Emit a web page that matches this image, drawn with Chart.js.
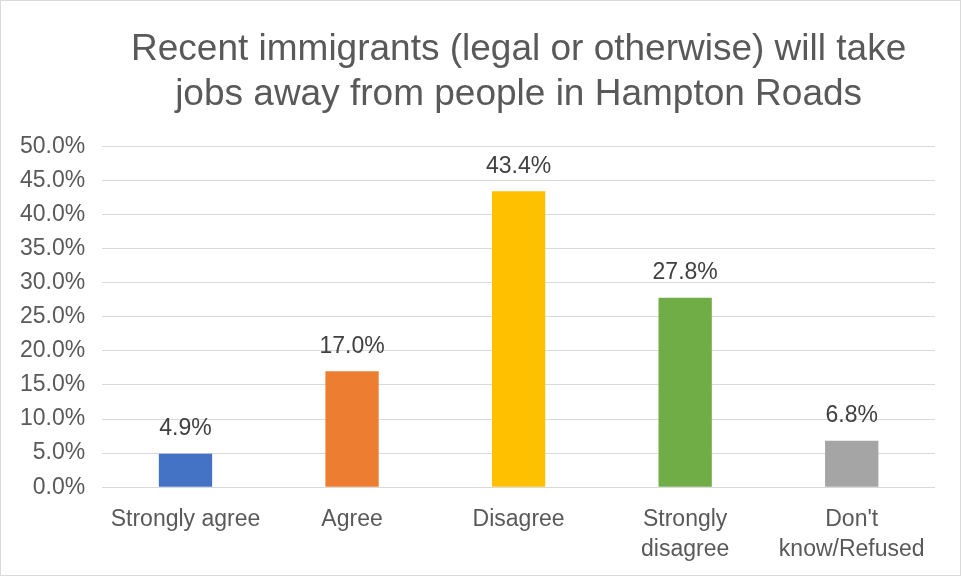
<!DOCTYPE html>
<html>
<head>
<meta charset="utf-8">
<script src="https://cdn.jsdelivr.net/npm/chart.js@4"></script>
<style>
  html, body { margin: 0; padding: 0; background: #fff; }
  .wrap { position: relative; width: 961px; height: 576px; box-sizing: border-box; border: 1px solid #d9d9d9; }
</style>
</head>
<body>
<div class="wrap"><canvas id="chart"></canvas></div>
<script>
const categories = ['Strongly agree', 'Agree', 'Disagree', ['Strongly', 'disagree'], ["Don't", 'know/Refused']];
const percents = [4.9, 17.0, 43.4, 27.8, 6.8];
const barColors = ['#4472c4', '#ed7d31', '#ffc000', '#70ad47', '#a5a5a5'];
const titleLines = ['Recent immigrants (legal or otherwise) will take', 'jobs away from people in Hampton Roads'];

const fontFamily = '"Liberation Sans", Arial, sans-serif';

// draws the value above each bar
const valueLabels = {
    id: 'valueLabels',
    afterDatasetsDraw(chart) {
        const ctx = chart.ctx;
        const meta = chart.getDatasetMeta(0);
        ctx.save();
        ctx.font = '23px ' + fontFamily;
        ctx.fillStyle = '#404040';
        ctx.textAlign = 'center';
        ctx.textBaseline = 'middle';
        meta.data.forEach((bar, i) => {
            ctx.fillText(percents[i].toFixed(1) + '%', bar.x, bar.y - 25);
        });
        ctx.restore();
    }
};

const ctx = document.getElementById('chart').getContext('2d');
new Chart(ctx, {
    type: 'bar',
    data: {
        labels: categories,
        datasets: [{
            data: percents,
            backgroundColor: barColors,
            categoryPercentage: 1,
            barPercentage: 0.32
        }]
    },
    options: {
        responsive: true,
        maintainAspectRatio: false,
        animation: false,
        layout: { padding: { left: 2, right: 25, top: 26, bottom: 0 } },
        plugins: {
            legend: { display: false },
            tooltip: { enabled: false },
            title: {
                display: true,
                text: titleLines,
                fullSize: false,
                color: '#595959',
                font: { family: fontFamily, size: 37, weight: 'normal', lineHeight: 1.22 },
                padding: { top: 0, bottom: 29 }
            }
        },
        scales: {
            x: {
                grid: { display: false },
                border: { display: false },
                ticks: {
                    color: '#595959',
                    font: { family: fontFamily, size: 23, lineHeight: 1.3 },
                    maxRotation: 0,
                    autoSkip: false,
                    padding: 10
                }
            },
            y: {
                min: 0,
                max: 50,
                grid: { color: '#d9d9d9', lineWidth: 1, drawTicks: false },
                border: { display: false },
                ticks: {
                    stepSize: 5,
                    color: '#595959',
                    font: { family: fontFamily, size: 23 },
                    padding: 17,
                    callback: v => v.toFixed(1) + '%'
                }
            }
        }
    },
    plugins: [valueLabels]
});
</script>
</body>
</html>
